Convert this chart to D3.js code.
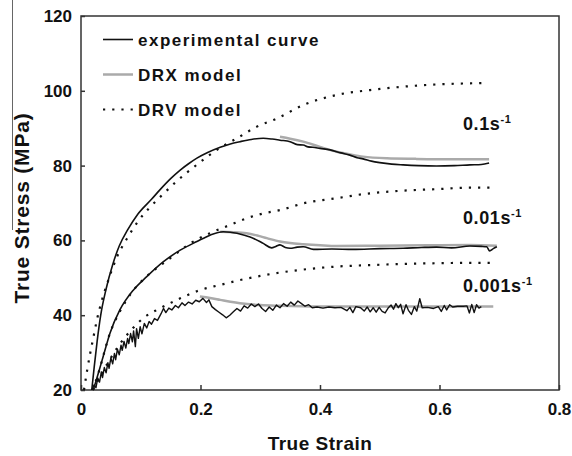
<!DOCTYPE html>
<html>
<head>
<meta charset="utf-8">
<script src="https://cdn.jsdelivr.net/npm/d3@7"></script>
<style>
  body { margin: 0; background: #fff; }
  svg { display: block; font-family: "Liberation Sans", Arial, sans-serif; }
</style>
</head>
<body>
<div id="chart"></div>
<script>
// strain vs true stress
xTicks = [0, 0.2, 0.4, 0.6, 0.8]
yTicks = [20, 40, 60, 80, 100, 120]

// 0.1 s-1
exp01 = [[0.018,20],[0.022,26],[0.027,33],[0.033,40],[0.042,47],[0.053,53.5],[0.064,58.5],[0.078,62.8],[0.095,67.0],
  [0.118,71.0],[0.132,73.5],[0.150,76.5],[0.166,78.8],[0.180,80.5],[0.194,82.0],[0.212,83.5],[0.233,84.9],[0.250,85.8],
  [0.266,86.4],[0.285,87.0],[0.305,87.3],[0.320,87.1],[0.333,86.8],[0.350,86.4],[0.362,85.6],[0.372,85.5],[0.380,85.0],
  [0.388,84.9],[0.400,84.6],[0.417,84.2],[0.435,83.4],[0.450,82.8],[0.462,82.1],[0.472,81.8],[0.486,81.2],[0.500,80.8],
  [0.520,80.4],[0.539,80.2],[0.565,80.0],[0.595,79.9],[0.625,80.0],[0.651,80.2],[0.670,80.3],[0.683,80.7]]
drx01 = [[0.333,87.7],[0.350,87.2],[0.372,86.4],[0.400,85.0],[0.428,83.7],[0.450,83.0],[0.472,82.4],[0.512,81.95],
  [0.560,81.8],[0.620,81.7],[0.683,81.7]]
drv01 = [[0.005,20],[0.010,25],[0.015,29.5],[0.020,33.5],[0.027,39],[0.035,44],[0.045,49],[0.060,55.5],[0.077,60.5],
  [0.095,65],[0.115,68.8],[0.135,72],[0.160,75.8],[0.196,80.5],[0.233,84.8],[0.261,87.3],[0.294,90.4],[0.328,92.6],
  [0.372,96.2],[0.428,98.9],[0.484,100.2],[0.539,101.1],[0.595,101.7],[0.651,102.0],[0.676,102.1]]

// 0.01 s-1
exp001 = [[0.0206,20],[0.029,24.5],[0.037,28.9],[0.0485,35.2],[0.065,41.4],[0.0875,46.7],[0.110,50.3],[0.138,54.3],
  [0.166,57.4],[0.194,59.7],[0.216,61.4],[0.238,62.3],[0.250,62.2],[0.261,61.9],[0.275,61.3],[0.288,60.6],[0.305,59.2],
  [0.319,58.0],[0.326,58.4],[0.333,58.8],[0.342,58.1],[0.350,57.9],[0.362,58.2],[0.372,58.3],[0.389,57.6],[0.420,57.7],
  [0.455,57.6],[0.500,57.8],[0.539,57.9],[0.570,58.1],[0.595,58.2],[0.620,58.0],[0.651,58.5],[0.670,58.4],[0.679,58.3],
  [0.684,57.2],[0.690,57.8],[0.696,58.3]]
drx001 = [[0.233,62.3],[0.255,62.2],[0.277,61.9],[0.295,61.3],[0.311,60.6],[0.333,59.7],[0.350,59.3],[0.372,59.0],
  [0.400,58.7],[0.428,58.5],[0.500,58.6],[0.580,58.7],[0.651,58.8],[0.696,58.6]]
drv001 = [[0.020,20],[0.030,25],[0.0485,35.2],[0.065,41.0],[0.087,46.5],[0.110,50.4],[0.149,55.2],[0.185,59.4],
  [0.221,62.3],[0.249,64.1],[0.277,65.9],[0.305,67.2],[0.333,68.1],[0.372,69.9],[0.428,71.3],[0.484,72.6],
  [0.539,73.3],[0.595,73.7],[0.651,74.1],[0.687,74.1]]

// 0.001 s-1 (noisy trace)
exp0001 = [[0.018,20],[0.022,21.4],[0.025,20.6],[0.028,23.2],[0.031,22.1],[0.034,24.8],[0.036,23.3],[0.039,26.0],
  [0.042,24.6],[0.045,27.3],[0.047,25.8],[0.050,28.6],[0.053,27.0],[0.056,29.8],[0.058,28.1],[0.061,30.9],[0.064,29.4],
  [0.067,32.0],[0.069,30.6],[0.072,33.0],[0.075,31.2],[0.078,33.8],[0.080,32.4],[0.083,35.1],[0.086,32.9],[0.088,35.8],
  [0.091,31.6],[0.093,36.4],[0.096,33.8],[0.099,36.9],[0.102,35.0],[0.106,37.8],[0.110,36.6],[0.114,38.3],[0.118,37.6],
  [0.123,39.1],[0.128,38.6],[0.134,40.4],[0.138,41.8],[0.142,40.7],[0.147,41.9],[0.152,41.4],[0.158,42.6],[0.163,42.0],
  [0.169,43.3],[0.174,42.6],[0.180,43.5],[0.186,43.0],[0.192,44.0],[0.198,43.6],[0.204,44.5],[0.210,43.4],[0.214,44.1],
  [0.219,42.3],[0.225,41.5],[0.231,40.8],[0.237,40.1],[0.243,39.3],[0.249,40.0],[0.255,40.9],[0.261,41.8],[0.267,41.1],
  [0.273,42.5],[0.279,41.9],[0.285,43.0],[0.291,42.3],[0.297,43.0],[0.303,41.8],[0.309,41.0],[0.315,42.2],[0.321,41.3],
  [0.327,42.7],[0.333,42.0],[0.339,43.1],[0.345,42.4],[0.351,43.5],[0.357,42.7],[0.363,43.8],[0.369,43.1],[0.375,42.4],
  [0.381,42.8],[0.387,42.0],[0.395,42.2],[0.405,41.9],[0.415,42.2],[0.425,42.0],[0.435,42.1],[0.445,41.2],[0.450,42.1],
  [0.455,40.7],[0.460,42.3],[0.468,42.0],[0.474,41.1],[0.479,42.2],[0.484,40.9],[0.489,42.0],[0.494,40.8],[0.499,42.1],
  [0.504,41.0],[0.509,40.6],[0.514,41.9],[0.519,42.7],[0.523,41.6],[0.527,43.1],[0.531,42.0],[0.535,42.9],[0.539,40.4],
  [0.544,42.8],[0.548,41.3],[0.553,40.2],[0.558,42.3],[0.562,41.1],[0.567,44.4],[0.571,42.0],[0.580,42.1],[0.590,41.8],
  [0.598,42.3],[0.603,41.0],[0.608,42.6],[0.612,41.4],[0.617,42.8],[0.622,42.2],[0.630,42.4],[0.640,42.4],[0.646,42.5],
  [0.650,40.6],[0.654,42.9],[0.658,40.7],[0.662,42.8],[0.666,41.9],[0.670,42.3]]
drx0001 = [[0.199,45.0],[0.216,44.6],[0.233,44.1],[0.250,43.6],[0.266,43.2],[0.300,42.7],[0.333,42.5],[0.400,42.3],
  [0.500,42.3],[0.600,42.3],[0.690,42.3]]
drv0001 = [[0.020,20],[0.035,24.5],[0.050,28.6],[0.065,32.3],[0.085,36.2],[0.104,39.2],[0.132,41.8],[0.166,44.5],
  [0.199,46.7],[0.233,48.1],[0.266,49.4],[0.300,50.5],[0.333,51.4],[0.372,52.2],[0.428,53.0],[0.484,53.4],
  [0.539,53.7],[0.595,53.9],[0.651,54.0],[0.687,54.0]]

rateLabels = [
  { text: "0.1", stress: 89.6 },
  { text: "0.01", stress: 64.5 },
  { text: "0.001", stress: 46.2 }
]
legendItems = ["experimental curve", "DRX model", "DRV model"]

width = 572
height = 456
margin = ({ top: 16, right: 13, bottom: 66, left: 81 })

x = d3.scaleLinear()
  .domain([0, 0.8])
  .range([margin.left, width - margin.right])

y = d3.scaleLinear()
  .domain([20, 120])
  .range([height - margin.bottom, margin.top])

const svg = d3.select("#chart").append("svg")
  .attr("width", width)
  .attr("height", height)

// stray scan edge on the left of the original
svg.append("line")
  .attr("x1", 12.5).attr("x2", 12.5)
  .attr("y1", 0).attr("y2", 230)
  .attr("stroke", "#666")
  .attr("stroke-width", 1)

xAxis = g => g
  .attr("transform", `translate(0,${y(20)})`)
  .call(d3.axisBottom(x).tickValues(xTicks).tickFormat(d3.format("")).tickSizeInner(-5).tickSizeOuter(0).tickPadding(13))
  .call(g => g.select(".domain").remove())
  .call(g => g.selectAll("line").attr("stroke", "#333").attr("stroke-width", 1.5))
  .call(g => g.selectAll("text").attr("font-size", 17).attr("font-weight", "bold").attr("fill", "#111")
    .attr("font-family", "'Liberation Sans', Arial, sans-serif"))

yAxis = g => g
  .attr("transform", `translate(${x(0)},0)`)
  .call(d3.axisLeft(y).tickValues(yTicks).tickSizeInner(-4).tickSizeOuter(0).tickPadding(9))
  .call(g => g.select(".domain").remove())
  .call(g => g.selectAll("line").attr("stroke", "#333").attr("stroke-width", 1.5))
  .call(g => g.selectAll("text").attr("font-size", 17).attr("font-weight", "bold").attr("fill", "#111")
    .attr("font-family", "'Liberation Sans', Arial, sans-serif"))

svg.append("g").call(xAxis)
svg.append("g").call(yAxis)

// frame
svg.append("rect")
  .attr("x", x(0))
  .attr("y", y(120))
  .attr("width", x(0.8) - x(0))
  .attr("height", y(20) - y(120))
  .attr("fill", "none")
  .attr("stroke", "#333")
  .attr("stroke-width", 1.5)

smooth = d3.line().x(d => x(d[0])).y(d => y(d[1])).curve(d3.curveMonotoneX)
rough = d3.line().x(d => x(d[0])).y(d => y(d[1]))

const plot = svg.append("g")

// DRV models (dotted)
plot.selectAll(".drv")
  .data([drv01, drv001, drv0001])
  .join("path")
  .attr("fill", "none")
  .attr("stroke", "#111")
  .attr("stroke-width", 2.2)
  .attr("stroke-dasharray", "2.2,7")
  .attr("d", smooth)

// DRX models (grey)
plot.selectAll(".drx")
  .data([drx01, drx001, drx0001])
  .join("path")
  .attr("fill", "none")
  .attr("stroke", "#aaa")
  .attr("stroke-width", 2.5)
  .attr("d", smooth)

// experiments
plot.append("path").datum(exp01)
  .attr("fill", "none").attr("stroke", "#111").attr("stroke-width", 1.6).attr("d", smooth)
plot.append("path").datum(exp001)
  .attr("fill", "none").attr("stroke", "#111").attr("stroke-width", 1.6).attr("d", smooth)
plot.append("path").datum(exp0001)
  .attr("fill", "none").attr("stroke", "#111").attr("stroke-width", 1.4).attr("stroke-linejoin", "round").attr("d", rough)

// strain-rate labels
const rl = svg.append("g")
  .attr("font-size", 18)
  .attr("font-weight", "bold")
  .attr("letter-spacing", 0.6)
  .attr("fill", "#111")
rl.selectAll("text")
  .data(rateLabels)
  .join("text")
  .attr("x", 463)
  .attr("y", d => y(d.stress))
  .call(t => t.append("tspan").text(d => d.text + "s"))
  .call(t => t.append("tspan").attr("dy", -7).attr("font-size", 11).text("-1"))

// legend
const legend = svg.append("g")
  .attr("font-size", 17)
  .attr("font-weight", "bold")
  .attr("fill", "#111")

const lg = legend.selectAll("g")
  .data(legendItems)
  .join("g")
  .attr("transform", (d, i) => `translate(0,${39.5 + i * 35})`)

lg.append("line")
  .attr("x1", 103).attr("x2", 133)
  .attr("stroke", (d, i) => i == 1 ? "#aaa" : "#111")
  .attr("stroke-width", (d, i) => i == 1 ? 2.5 : (i == 2 ? 2.2 : 1.6))
  .attr("stroke-dasharray", (d, i) => i == 2 ? "2.2,7" : null)

lg.append("text")
  .attr("x", 138)
  .attr("y", 6)
  .attr("letter-spacing", 1.5)
  .text(d => d)

// axis titles
svg.append("text")
  .attr("x", x(0.4))
  .attr("y", 450)
  .attr("text-anchor", "middle")
  .attr("font-size", 19)
  .attr("font-weight", "bold")
  .attr("letter-spacing", 0.5)
  .attr("fill", "#111")
  .text("True Strain")

svg.append("text")
  .attr("transform", `translate(29,208) rotate(-90)`)
  .attr("text-anchor", "middle")
  .attr("font-size", 21)
  .attr("font-weight", "bold")
  .attr("letter-spacing", 0.8)
  .attr("fill", "#111")
  .text("True Stress (MPa)")
</script>
</body>
</html>
